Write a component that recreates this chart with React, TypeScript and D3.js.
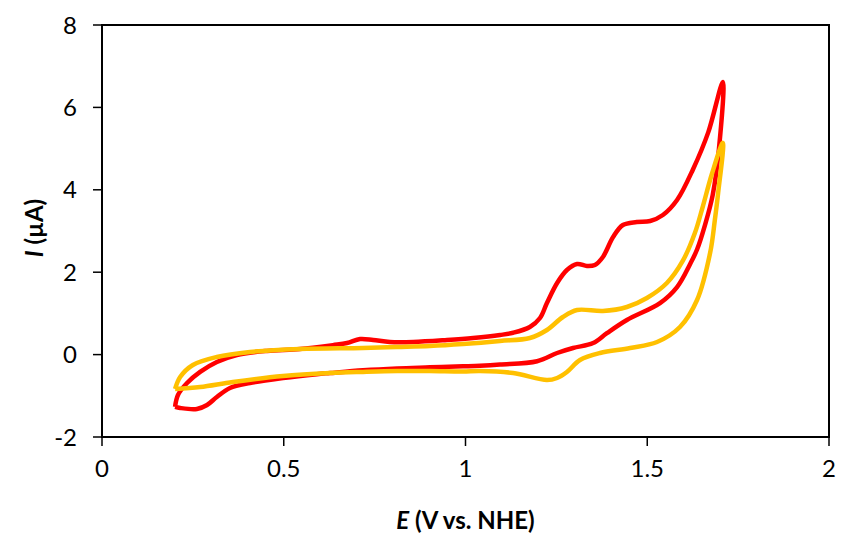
import React from "react";
import * as d3 from "d3";

const xTicks = [0, 0.5, 1, 1.5, 2];
const yTicks = [-2, 0, 2, 4, 6, 8];

// Red CV: anodic sweep (0.2 -> 1.7 V) then cathodic return (1.7 -> 0.2 V)
const redV = [0.201, 0.209, 0.234, 0.27, 0.316, 0.371, 0.454, 0.545, 0.635, 0.674, 0.71, 0.746, 0.792, 0.856, 0.949, 1.021, 1.095, 1.131, 1.177, 1.205, 1.224, 1.252, 1.279, 1.307, 1.334, 1.356, 1.378, 1.406, 1.433, 1.471, 1.508, 1.543, 1.582, 1.626, 1.668, 1.708,
  1.697, 1.68, 1.659, 1.637, 1.618, 1.582, 1.535, 1.444, 1.389, 1.351, 1.296, 1.252, 1.197, 1.095, 1.04, 0.993, 0.902, 0.812, 0.718, 0.627, 0.591, 0.498, 0.407, 0.352, 0.316, 0.289, 0.261, 0.215, 0.201];
const redI = [-1.27, -0.98, -0.69, -0.42, -0.18, -0.01, 0.09, 0.136, 0.23, 0.28, 0.379, 0.354, 0.306, 0.306, 0.354, 0.403, 0.476, 0.53, 0.67, 0.888, 1.252, 1.738, 2.053, 2.199, 2.15, 2.175, 2.369, 2.854, 3.146, 3.218, 3.243, 3.388, 3.752, 4.5, 5.4, 6.617,
  4.97, 3.87, 3.15, 2.55, 2.2, 1.64, 1.25, 0.84, 0.52, 0.28, 0.16, 0.039, -0.16, -0.24, -0.27, -0.285, -0.31, -0.335, -0.38, -0.447, -0.475, -0.568, -0.689, -0.811, -1.029, -1.223, -1.32, -1.296, -1.27];

// Orange CV
const orangeV = [0.201, 0.215, 0.25, 0.316, 0.407, 0.545, 0.718, 0.812, 0.902, 0.993, 1.095, 1.177, 1.224, 1.268, 1.307, 1.378, 1.444, 1.499, 1.554, 1.598, 1.631, 1.653, 1.678, 1.708,
  1.695, 1.686, 1.673, 1.637, 1.59, 1.527, 1.453, 1.37, 1.315, 1.279, 1.252, 1.224, 1.131, 1.04, 0.993, 0.902, 0.812, 0.718, 0.627, 0.498, 0.36, 0.27, 0.201];
const orangeI = [-0.835, -0.544, -0.252, -0.058, 0.063, 0.136, 0.16, 0.184, 0.209, 0.257, 0.33, 0.403, 0.597, 0.913, 1.083, 1.058, 1.155, 1.374, 1.738, 2.28, 2.95, 3.6, 4.39, 5.14,
  3.92, 3.27, 2.47, 1.325, 0.67, 0.306, 0.16, 0.039, -0.131, -0.422, -0.568, -0.617, -0.447, -0.398, -0.41, -0.4, -0.4, -0.42, -0.447, -0.519, -0.665, -0.786, -0.835];

const W = 841;
const H = 533;
const left = 102;
const right = 829;
const top = 25;
const bottom = 437;
const FONT = "Lato, 'Open Sans', sans-serif";

export default function App() {
  const x = d3.scaleLinear().domain([0, 2]).range([left, right]);
  const y = d3.scaleLinear().domain([-2, 8]).range([bottom, top]);
  const line = d3
    .line<[number, number]>()
    .x((d) => x(d[0]))
    .y((d) => y(d[1]))
    .curve(d3.curveCatmullRom.alpha(0.5));

  const red = redV.map((v, i) => [v, redI[i]] as [number, number]);
  const orange = orangeV.map((v, i) => [v, orangeI[i]] as [number, number]);

  return (
    <svg
      width={W}
      height={H}
      style={{ position: "absolute", left: 0, top: 0, background: "#fff" }}
      fontFamily={FONT}
    >
      <rect x={0} y={0} width={W} height={H} fill="#fff" />
      <path d={line(red) || ""} fill="none" stroke="#FF0000" strokeWidth={4.5} strokeLinejoin="round" />
      <path d={line(orange) || ""} fill="none" stroke="#FFC000" strokeWidth={4.5} strokeLinejoin="round" />
      <rect x={left} y={top} width={right - left} height={bottom - top} fill="none" stroke="#000" strokeWidth={2} />
      {yTicks.map((t) => (
        <g key={"y" + t}>
          <line x1={left - 9} x2={left} y1={y(t)} y2={y(t)} stroke="#000" strokeWidth={1.5} />
          <text x={77} y={y(t)} dy="0.36em" textAnchor="end" fontSize={24} fill="#000">
            {t}
          </text>
        </g>
      ))}
      {xTicks.map((t) => (
        <g key={"x" + t}>
          <line x1={x(t)} x2={x(t)} y1={bottom} y2={bottom + 9} stroke="#000" strokeWidth={1.5} />
          <text x={x(t)} y={477} textAnchor="middle" fontSize={24} fill="#000">
            {t}
          </text>
        </g>
      ))}
      <text x={(left + right) / 2} y={529} textAnchor="middle" fontSize={24} fontWeight="bold" fill="#000">
        <tspan fontStyle="italic">E</tspan> (V vs. NHE)
      </text>
      <text
        transform={`translate(43, 228) rotate(-90)`}
        textAnchor="middle"
        fontSize={24}
        fontWeight="bold"
        fill="#000"
      >
        <tspan fontStyle="italic">I</tspan> (µA)
      </text>
    </svg>
  );
}
